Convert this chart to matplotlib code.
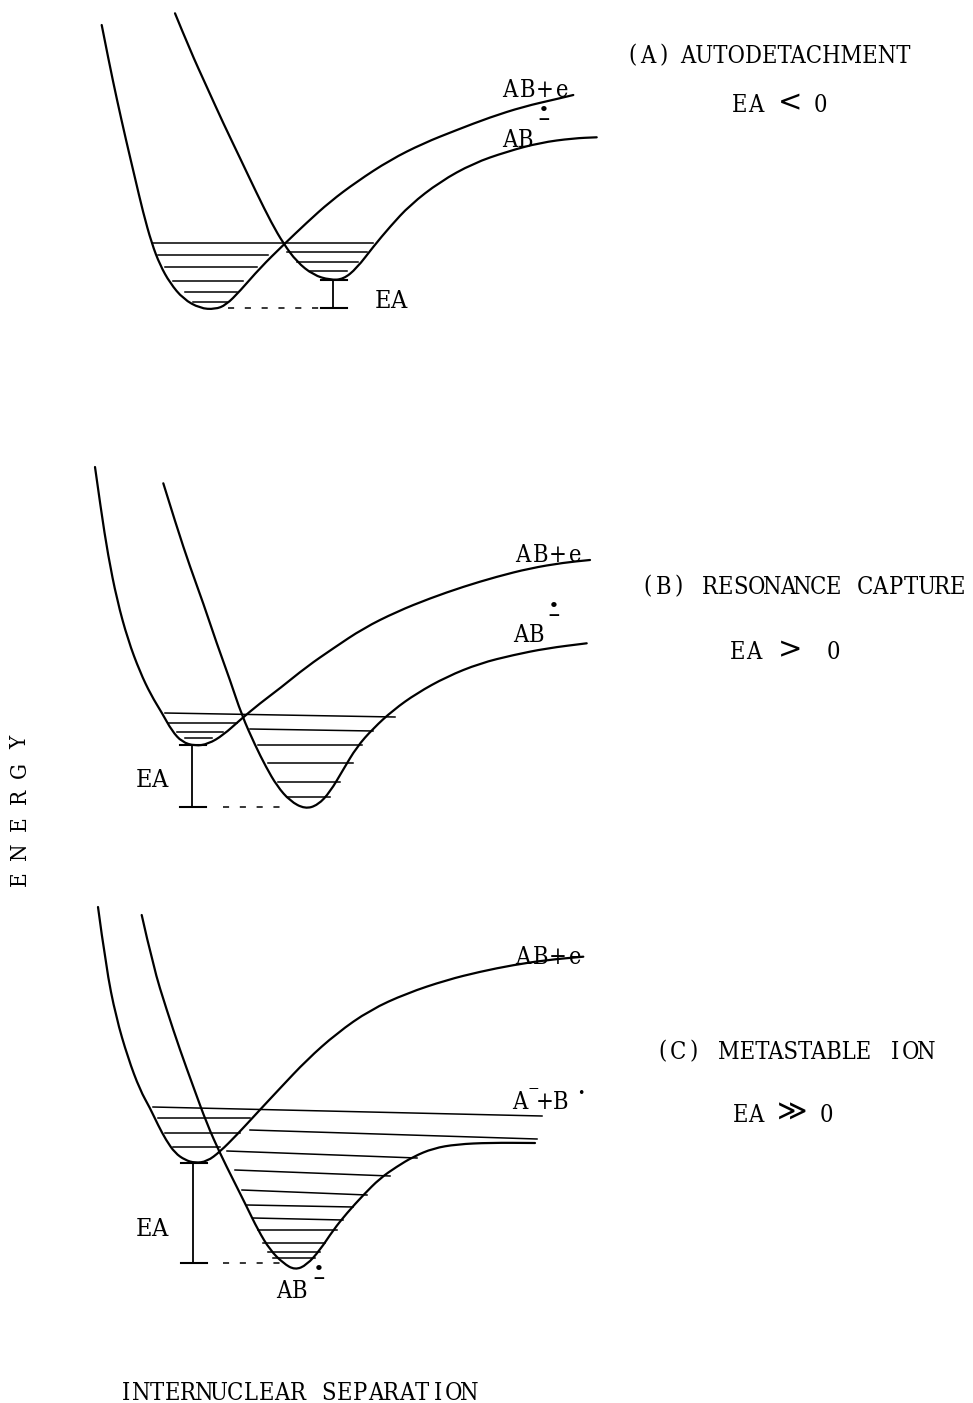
import matplotlib
matplotlib.use("Agg")
import matplotlib.pyplot as plt
from matplotlib.path import Path
from matplotlib.patches import PathPatch

# --- potential curves, traced points (x, y in sheet units, y grows downward) ---
# (A) autodetachment
a_neutral_x = [101.7, 109, 117, 126, 135, 143, 151.7, 160, 170, 183.3, 200, 215, 226, 240,
               260, 283.3, 306.7, 330, 356.7, 390, 423.3, 456.7, 490, 523.3, 556.7, 573.3]
a_neutral_y = [25, 62, 100, 140, 178, 212, 243.3, 265, 283, 299, 308.3, 309.3, 305, 291,
               268, 245, 222.7, 201.7, 181.7, 160, 143.3, 130, 117.3, 106.7, 99, 95]
a_anion_x = [175, 190, 206.7, 223.3, 240, 256.7, 271.7, 283.3, 296.7, 313.3, 330, 343.3,
             356.7, 373.3, 390, 410, 440, 473.3, 506.7, 540, 573.3, 596.7]
a_anion_y = [13.3, 50, 86.7, 123.3, 158, 193.3, 223.3, 243.3, 261.7, 275, 280, 279.3,
             268.3, 246.7, 226.7, 205, 181.7, 163.3, 151.7, 142.7, 138.3, 137.3]
# vibrational levels: x0, x1, y0, y1
a_levels = [(152, 373, 243, 243), (158, 268, 255, 255), (165, 257, 267, 267),
            (173, 243, 281, 281), (185, 237, 292, 292), (193, 227, 302, 302),
            (287, 367, 252, 252), (297, 358, 262, 262), (310, 347, 271, 271)]
a_ea = (333, 280, 308)          # bar x, top, bottom
a_ea_dash = (228, 320)

# (B) resonance capture
b_neutral_x = [95, 101, 108, 117, 128, 140, 151, 162, 172, 182, 195, 208.3, 223.3, 240,
               260, 280, 306.7, 333.3, 363.3, 396.7, 430, 463.3, 496.7, 530, 563.3, 590]
b_neutral_y = [467, 510, 555, 600, 640, 672, 695, 713, 731, 742, 746, 744, 735, 720,
               703.3, 688.3, 666.7, 648.3, 628.3, 611.7, 598.3, 586.7, 576.7, 568.3, 562.7, 560]
b_anion_x = [163.3, 176.7, 190, 203.3, 216.7, 230, 241.7, 255, 266, 277, 290, 305, 318,
             330, 343, 356.7, 373.3, 393.3, 416.7, 446.7, 480, 513.3, 546.7, 586.7]
b_anion_y = [483.3, 526.7, 566.7, 603.3, 643.3, 680, 715, 745, 767, 786, 801, 809, 805,
             792, 770, 747, 728.3, 710, 693.3, 676.7, 663.3, 655, 648.3, 643.3]
b_levels = [(165, 395, 713, 717), (168, 237, 723, 723), (177, 223, 732, 732),
            (185, 212, 738, 738), (250, 373, 729, 731), (258, 362, 745, 745),
            (268, 353, 763, 763), (278, 340, 782, 782), (287, 330, 797, 797)]
b_ea = (192, 745, 807)
b_ea_dash = (223, 280)

# (C) metastable ion
c_neutral_x = [98, 106, 116, 128, 140, 150, 158, 166, 175, 185, 195, 207, 220,
               236.7, 256.7, 280, 306.7, 336.7, 370, 406.7, 446.7, 480, 513.3, 546.7, 583.3]
c_neutral_y = [907, 967, 1017, 1058, 1090, 1108, 1125, 1140, 1153, 1160, 1163,
               1161.5, 1151.7, 1135, 1113.3, 1088.3, 1060, 1033.3, 1010, 993.3, 980,
               971.7, 965, 960, 956.7]
c_anion_x = [141.7, 153.3, 166.7, 180, 193.3, 206.7, 220, 233.3, 246.7, 258, 270, 283.3,
             295, 306.7, 320, 333.3, 346.7, 363.3, 380, 396.7, 413.3, 433.3, 456.7, 490, 535]
c_anion_y = [915, 966.7, 1010, 1050, 1086.7, 1123.3, 1153.3, 1180, 1206.7, 1230, 1250,
             1263.3, 1270, 1265, 1250, 1230, 1213.3, 1195, 1178.3, 1166.7, 1156.7,
             1148.3, 1144.3, 1142.7, 1143]
c_levels = [(153, 542, 1107, 1116), (158, 250, 1118, 1118), (250, 537, 1130, 1139),
            (165, 240, 1133, 1133), (173, 220, 1147, 1147),
            (227, 417, 1151, 1158), (235, 390, 1170, 1176), (242, 367, 1190, 1195),
            (247, 353, 1205, 1207), (253, 343, 1218, 1220), (258, 337, 1230, 1230),
            (263, 325, 1243, 1243), (268, 320, 1252, 1252), (273, 315, 1258, 1258)]
c_ea = (193, 1163, 1263)
c_ea_dash = (223, 280)

# side captions
titles = ["(A) AUTODETACHMENT", "(B) RESONANCE CAPTURE", "(C) METASTABLE ION"]
title_pos = [(625, 54), (640, 585), (655, 1050)]
relations = ["<", ">", "≫"]
relation_pos = [(732, 790, 820, 103), (730, 790, 833, 650), (733, 792, 826, 1113)]

serif = ["DejaVu Serif", "DejaVu Sans"]
narrow = ["DejaVu Serif Condensed", "DejaVu Serif", "DejaVu Sans"]


def smooth_path(xs, ys):
    pts = list(zip(xs, ys))
    verts = [pts[0]]
    codes = [Path.MOVETO]
    for i in range(1, len(pts) - 1):
        mid = ((pts[i][0] + pts[i + 1][0]) / 2, (pts[i][1] + pts[i + 1][1]) / 2)
        verts += [pts[i], mid]
        codes += [Path.CURVE3, Path.CURVE3]
    verts.append(pts[-1])
    codes.append(Path.LINETO)
    return Path(verts, codes)


def draw_curve(ax, xs, ys):
    ax.add_patch(PathPatch(smooth_path(xs, ys), fill=False, lw=1.6,
                           edgecolor="black", capstyle="round", joinstyle="round"))


def draw_levels(ax, levels):
    for x0, x1, y0, y1 in levels:
        ax.plot([x0, x1], [y0, y1], color="black", lw=1.1)


def draw_ea(ax, ea, dash, cap_l=12, cap_r=14):
    x, top, bot = ea
    ax.plot([x, x], [top, bot], color="black", lw=1.3)
    ax.plot([x - cap_l, x + cap_r], [top, top], color="black", lw=1.5)
    ax.plot([x - cap_l, x + cap_r], [bot, bot], color="black", lw=1.5)
    ax.plot([dash[0], dash[1]], [bot, bot], color="black", lw=1.1,
            linestyle=(0, (4, 7)))


def typewrite(ax, x, y, s, cell=15.5, size=15, vertical=False, fam=narrow):
    # fixed pitch, one glyph per cell, all on one baseline.
    # words holding a wide letter are set as one string over their cells
    if vertical:
        for i, ch in enumerate(s):
            ax.text(x, y - i * cell - cell / 2, ch, family=fam, fontsize=size,
                    fontstretch="condensed", rotation=90, ha="center", va="center")
        return
    base = y + 0.506 * size
    start = 0
    for word in s.split(" "):
        if word and any(c in "MW" for c in word):
            ax.text(x + (start + len(word) / 2) * cell, base, word, family=fam,
                    fontsize=size, fontstretch="condensed", ha="center", va="baseline")
        else:
            for j, ch in enumerate(word):
                ax.text(x + (start + j) * cell + cell / 2, base, ch, family=fam,
                        fontsize=size, fontstretch="condensed", ha="center",
                        va="baseline")
        start += len(word) + 1


def radical_anion(ax, x, y, sup_x, sup_y):
    typewrite(ax, x, y, "AB", cell=15.5, size=17)
    ax.text(sup_x, sup_y, "•\n−", family=serif, fontsize=11, fontweight="bold",
            linespacing=0.55, ha="center", va="center")


fig = plt.figure(figsize=(9.73, 14.03), dpi=100)
ax = fig.add_axes([0, 0, 1, 1])
ax.set_xlim(0, 973)
ax.set_ylim(1403, 0)
ax.axis("off")

# panel A
draw_curve(ax, a_neutral_x, a_neutral_y)
draw_curve(ax, a_anion_x, a_anion_y)
draw_levels(ax, a_levels)
draw_ea(ax, a_ea, a_ea_dash)
typewrite(ax, 375, 299, "EA", cell=15.5, size=18)
typewrite(ax, 501, 88, "AB+e", cell=17.5, size=17)
radical_anion(ax, 502, 138, 544, 115)

# panel B
draw_curve(ax, b_neutral_x, b_neutral_y)
draw_curve(ax, b_anion_x, b_anion_y)
draw_levels(ax, b_levels)
draw_ea(ax, b_ea, b_ea_dash)
typewrite(ax, 136, 778, "EA", cell=15.5, size=18)
typewrite(ax, 514, 553, "AB+e", cell=17.5, size=17)
radical_anion(ax, 513, 633, 554, 611)

# panel C
draw_curve(ax, c_neutral_x, c_neutral_y)
draw_curve(ax, c_anion_x, c_anion_y)
draw_levels(ax, c_levels)
draw_ea(ax, c_ea, c_ea_dash)
typewrite(ax, 136, 1227, "EA", cell=15.5, size=18)
typewrite(ax, 514, 955, "AB+e", cell=17.5, size=17)
radical_anion(ax, 276, 1289, 319, 1274)
typewrite(ax, 512, 1100, "A", cell=16, size=17)
ax.text(533, 1094, "⁻", family=serif, fontsize=16, ha="center", va="center")
typewrite(ax, 537, 1100, "+B", cell=16, size=17)
ax.text(581, 1093, "•", family=serif, fontsize=9, ha="center", va="center")

# captions on the right
for t, (tx, ty) in zip(titles, title_pos):
    typewrite(ax, tx, ty, t, cell=15.5, size=17)
for r, (ex, rx, zx, ry) in zip(relations, relation_pos):
    typewrite(ax, ex, ry, "EA", cell=15.5, size=17)
    ax.text(rx, ry, r, family=serif, fontsize=21, ha="center", va="center")
    typewrite(ax, zx - 7.75, ry, "0", cell=15.5, size=17)

# axis names
typewrite(ax, 20, 892, "ENERGY", cell=27.2, size=16, vertical=True)
typewrite(ax, 118, 1391, "INTERNUCLEAR SEPARATION", cell=15.6, size=17)

fig.savefig("out.png", dpi=100, facecolor="white")
